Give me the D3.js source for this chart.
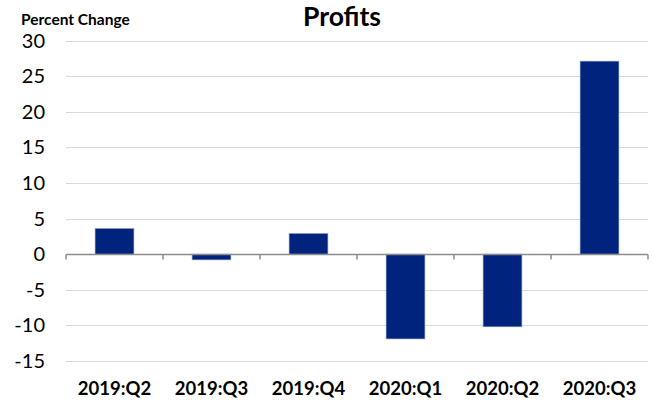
<!DOCTYPE html>
<style>
  body { margin: 0; background: #fff; }
  svg { font-family: Lato, "Open Sans", sans-serif; }
  .grid line { stroke: #d9d9d9; stroke-width: 1; }
  .bar { fill: #00247d; stroke: #8a9bc4; stroke-width: 0.6; }
</style>
<body>
</body>
<script src="https://cdn.jsdelivr.net/npm/d3@7"></script>
<script>
  const categories = ['2019:Q2', '2019:Q3', '2019:Q4', '2020:Q1', '2020:Q2', '2020:Q3'];
  const values = [3.6, -0.8, 2.9, -11.9, -10.2, 27.1];
  const yTicks = [-15, -10, -5, 0, 5, 10, 15, 20, 25, 30];

  const w = 653, h = 401;
  const l = 66, r = 648, t = 40.5, b = 361;

  const svg = d3.select('body').append('svg')
    .attr('width', w)
    .attr('height', h);

  const x = d3.scaleBand().domain(categories).range([l, r]).paddingInner(0.6).paddingOuter(0.3);
  const xb = d3.scaleBand().domain(categories).range([l, r]);
  const y = d3.scaleLinear().domain([-15, 30]).range([b, t]);

  // gridlines
  svg.append('g').attr('class', 'grid')
    .selectAll('line')
    .data(yTicks.filter(d => d !== 0))
    .join('line')
    .attr('x1', l).attr('x2', r)
    .attr('y1', d => Math.round(y(d)) + 0.5)
    .attr('y2', d => Math.round(y(d)) + 0.5);

  // y labels
  svg.append('g')
    .selectAll('text')
    .data(yTicks)
    .join('text')
    .attr('x', 45)
    .attr('y', d => y(d))
    .attr('dy', '0.35em')
    .attr('text-anchor', 'end')
    .attr('font-size', 20)
    .attr('fill', '#000')
    .text(d => d);

  // bars
  svg.append('g')
    .selectAll('rect')
    .data(values)
    .join('rect')
    .attr('class', 'bar')
    .attr('x', (d, i) => x(categories[i]))
    .attr('width', x.bandwidth())
    .attr('y', d => y(Math.max(0, d)))
    .attr('height', d => Math.abs(y(d) - y(0)));

  // zero axis with ticks
  const zy = Math.round(y(0)) + 0.5;
  const axis = svg.append('g').attr('stroke', '#8c8c8c').attr('stroke-width', 1.5);
  axis.append('line').attr('x1', l).attr('x2', r).attr('y1', zy).attr('y2', zy);
  axis.selectAll('.tk')
    .data(categories.map(c => xb(c)).concat([r]))
    .join('line')
    .attr('class', 'tk')
    .attr('x1', d => d).attr('x2', d => d)
    .attr('y1', zy).attr('y2', zy + 5);

  // x labels
  svg.append('g')
    .selectAll('text')
    .data(categories)
    .join('text')
    .attr('x', d => xb(d) + xb.bandwidth() / 2)
    .attr('y', 395)
    .attr('text-anchor', 'middle')
    .attr('font-size', 18.5)
    .attr('font-weight', 'bold')
    .attr('fill', '#000')
    .text(d => d);

  svg.append('text')
    .attr('x', 342).attr('y', 26)
    .attr('text-anchor', 'middle')
    .attr('font-size', 26.5)
    .attr('font-weight', 'bold')
    .text('Profits');

  svg.append('text')
    .attr('x', 21).attr('y', 25)
    .attr('font-size', 15.5)
    .attr('font-weight', 'bold')
    .text('Percent Change');
</script>
